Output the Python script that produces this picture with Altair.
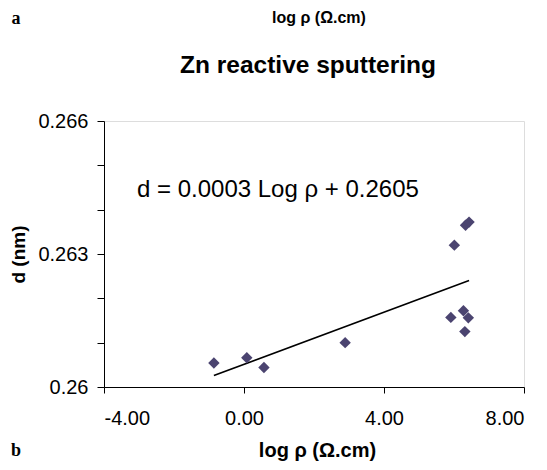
import altair as alt
import pandas as pd

# Data
log_rho = [-0.86, 0.08, 0.57, 2.89, 5.91, 6.27, 6.41, 6.31, 6.01, 6.33, 6.43]
d_nm = [0.26054, 0.26066, 0.26044, 0.26100, 0.26157, 0.26172, 0.26156, 0.26125, 0.26320, 0.26365, 0.26372]

fit_x = [-0.86, 6.43]
fit_y = [0.26026, 0.26240]

x_ticks = [-4, 0, 4, 8]
y_ticks = [0.260, 0.261, 0.262, 0.263, 0.264, 0.265, 0.266]

pts = pd.DataFrame({"x": log_rho, "y": d_nm})
fit = pd.DataFrame({"x": fit_x, "y": fit_y})

FONT = "Liberation Sans"

xscale = alt.Scale(domain=[-4, 8], nice=False, zero=False)
yscale = alt.Scale(domain=[0.26, 0.266], nice=False, zero=False)

xaxis = alt.Axis(
    values=x_ticks, grid=False, tickSize=6, tickColor="black", domainColor="black",
    labelExpr="replace(format(datum.value, '.2f'), '\u2212', '-')",
    labelFontSize=20, labelFont=FONT, labelColor="black", labelPadding=15,
    title="log \u03c1 (\u03a9.cm)", titleFont=FONT, titleFontSize=20, titleFontWeight="bold",
    titleColor="black", titleX=213, titleY=69, titleBaseline="alphabetic", titleAlign="center",
)
yaxis = alt.Axis(
    values=y_ticks, grid=False, tickSize=7, tickColor="black", domainColor="black",
    labelExpr="abs((datum.value*1000-260)/3 - round((datum.value*1000-260)/3)) < 0.01 ? format(datum.value, '.3~f') : ''",
    labelFontSize=20, labelFont=FONT, labelColor="black", labelPadding=9,
    title="d (nm)", titleFont=FONT, titleFontSize=19, titleFontWeight="bold",
    titleColor="black", titleX=-80, titleY=133, titleAngle=-90,
    titleBaseline="alphabetic", titleAlign="center",
)

points = alt.Chart(pts).mark_point(shape="diamond", filled=True, size=130, color="#4B4470", opacity=1).encode(
    x=alt.X("x:Q", scale=xscale, axis=xaxis),
    y=alt.Y("y:Q", scale=yscale, axis=yaxis),
)

line = alt.Chart(fit).mark_line(color="black", strokeWidth=1.6).encode(
    x=alt.X("x:Q", scale=xscale),
    y=alt.Y("y:Q", scale=yscale),
)

def label(txt, x, y, size, weight="normal", font=FONT, align="center"):
    return alt.Chart(pd.DataFrame({"t": [txt]})).mark_text(
        fontSize=size, fontWeight=weight, font=font, align=align, baseline="alphabetic", color="black"
    ).encode(x=alt.value(x), y=alt.value(y), text="t:N")

equation = label("d = 0.0003 Log \u03c1 + 0.2605", 33, 76, 24, align="left")
title = label("Zn reactive sputtering", 204, -48, 24.5, weight="bold")
top_lbl = label("log \u03c1 (\u03a9.cm)", 215, -98, 16, weight="bold")
a_lbl = label("a", -88, -97, 18, weight="bold", font="Liberation Serif")
b_lbl = label("b", -88, 335, 18, weight="bold", font="Liberation Serif")

chart = alt.layer(line, points, equation, title, top_lbl, a_lbl, b_lbl).properties(
    width=420, height=266,
    autosize=alt.AutoSizeParams(type="none"),
    padding={"left": 96, "top": 113, "right": 15, "bottom": 83},
).configure_view(stroke="#a0a0a0", strokeWidth=1.2).configure(background="white")

chart.save("out.html", embed_options={"renderer": "svg", "actions": False})
